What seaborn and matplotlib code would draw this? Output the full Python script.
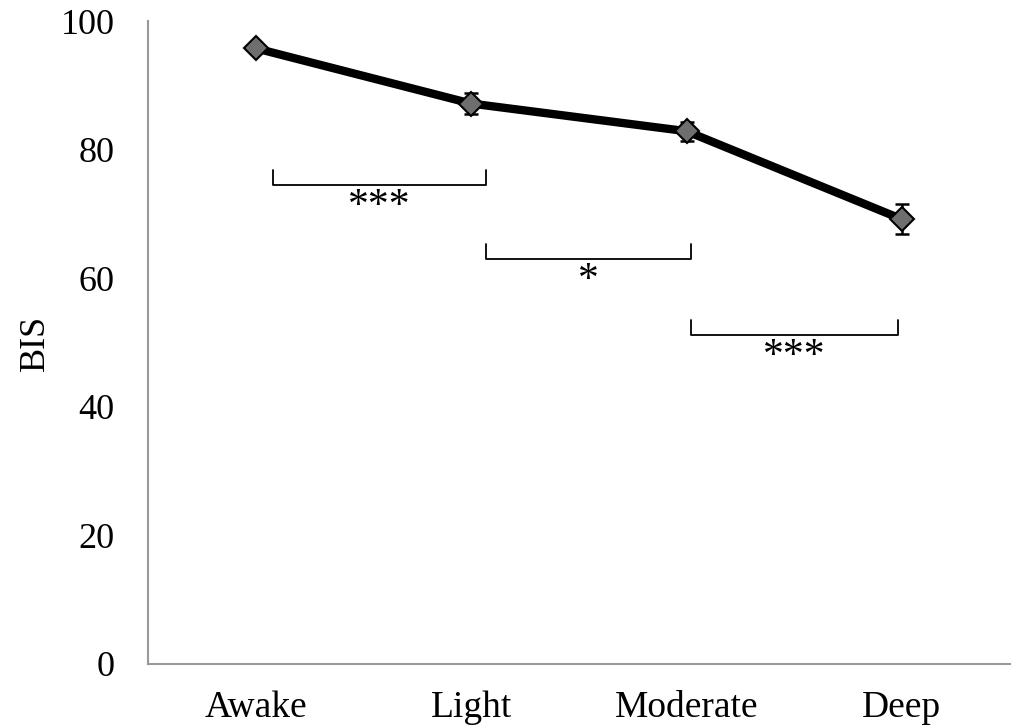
import matplotlib
matplotlib.use("Agg")
import matplotlib.pyplot as plt
import seaborn as sns
import pandas as pd

categories = ["Awake", "Light", "Moderate", "Deep"]
bis_mean = [95.8, 87.2, 82.9, 69.2]
bis_err = [0.4, 1.65, 1.5, 2.3]
# significance brackets: (start, end, level, label)
bracket_start = [0.08, 1.07, 2.02]
bracket_end = [1.07, 2.02, 2.98]
bracket_level = [74.6, 63.0, 51.2]
bracket_label = ["***", "*", "***"]

sns.set_style("white")
plt.rcParams["font.family"] = ["Liberation Serif", "DejaVu Serif"]
plt.rcParams["text.color"] = "black"
plt.rcParams["axes.labelcolor"] = "black"
plt.rcParams["xtick.color"] = "black"
plt.rcParams["ytick.color"] = "black"

df = pd.DataFrame({"stage": categories, "BIS": bis_mean})

fig = plt.figure(figsize=(10.16, 7.27), dpi=100)
ax = fig.add_axes([0.1457, 0.0867, 0.848, 0.884])

ax.errorbar(range(len(categories)), bis_mean, yerr=bis_err, fmt="none",
            ecolor="black", elinewidth=1.8, capsize=5, capthick=1.8, zorder=2)
sns.lineplot(data=df, x="stage", y="BIS", ax=ax, color="black", linewidth=6,
             marker="D", markersize=12, markerfacecolor="#6e6e6e",
             markeredgecolor="black", markeredgewidth=1.5, sort=False, zorder=3)

for s, e, lvl, lab in zip(bracket_start, bracket_end, bracket_level, bracket_label):
    ax.plot([s, s, e, e], [lvl + 2.3, lvl, lvl, lvl + 2.3], color="black", linewidth=1.3)
    ax.text((s + e) / 2, lvl - 0.4, lab, ha="center", va="top", fontsize=30,
            color="black")

ax.set_xlim(-0.5, 3.5)
ax.set_ylim(0, 100)
ax.set_yticks([0, 20, 40, 60, 80, 100])
ax.tick_params(axis="y", length=0, labelsize=26, pad=24, labelcolor="black")
ax.tick_params(axis="x", length=0, labelsize=27, pad=19, labelcolor="black")
ax.set_xlabel("")
ax.set_ylabel("BIS", fontsize=26, labelpad=6, color="black")
for side in ["top", "right"]:
    ax.spines[side].set_visible(False)
for side in ["left", "bottom"]:
    ax.spines[side].set_color("#999999")
    ax.spines[side].set_linewidth(1.5)

fig.savefig("out.png", dpi=100)
